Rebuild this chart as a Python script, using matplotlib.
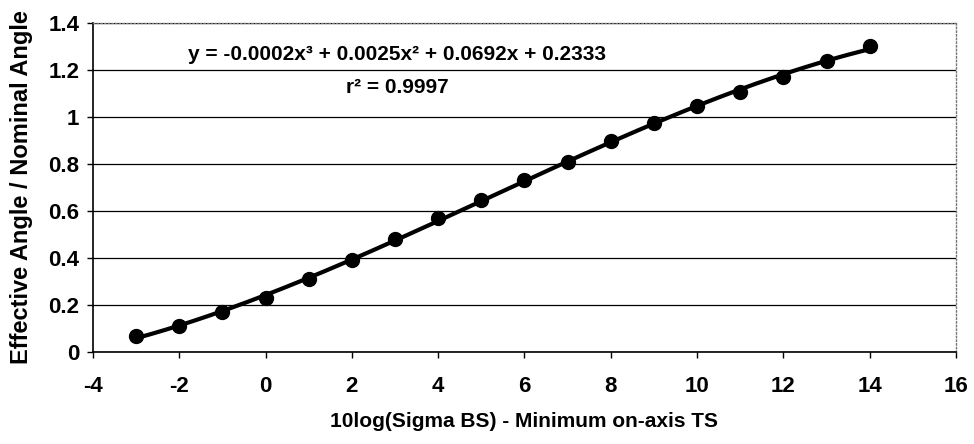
import numpy as np
import matplotlib.pyplot as plt

# data
sigma_bs = [-3, -2, -1, 0, 1, 2, 3, 4, 5, 6, 7, 8, 9, 10, 11, 12, 13, 14]
angle_ratio = [0.07, 0.11, 0.17, 0.23, 0.31, 0.39, 0.48, 0.57, 0.645, 0.73,
               0.81, 0.90, 0.975, 1.045, 1.105, 1.17, 1.24, 1.30]

x_ticks = [-4, -2, 0, 2, 4, 6, 8, 10, 12, 14, 16]
y_ticks = [0, 0.2, 0.4, 0.6, 0.8, 1.0, 1.2, 1.4]
y_tick_labels = ["0", "0.2", "0.4", "0.6", "0.8", "1", "1.2", "1.4"]

equation = "y = -0.0002x³ + 0.0025x² + 0.0692x + 0.2333"
r_squared = "r² = 0.9997"

plt.rcParams['font.family'] = ['Liberation Sans', 'DejaVu Sans']
plt.rcParams['font.weight'] = 'bold'
plt.rcParams['axes.unicode_minus'] = False

fig = plt.figure(figsize=(9.74, 4.44), dpi=100)
ax = fig.add_axes([0.0955, 0.2072, 0.886, 0.741])

# cubic trendline, like Excel's polynomial fit
coef = np.polyfit(sigma_bs, angle_ratio, 3)
xs = np.linspace(min(sigma_bs), max(sigma_bs), 200)
ax.plot(xs, np.polyval(coef, xs), color='black', linewidth=3, zorder=3)
ax.plot(sigma_bs, angle_ratio, 'o', color='black', markersize=10, zorder=4)

ax.set_xlim(-4, 16)
ax.set_ylim(0, 1.4)
ax.set_xticks(x_ticks)
ax.set_yticks(y_ticks)
ax.set_yticklabels(y_tick_labels)
ax.tick_params(labelsize=16, length=4, width=1, color='black')
ax.tick_params(axis='x', pad=13)
ax.tick_params(axis='y', pad=6)
for lbl in ax.get_xticklabels() + ax.get_yticklabels():
    lbl.set_fontweight('bold')

ax.grid(axis='y', color='black', linewidth=0.9)
ax.set_axisbelow(True)
for side in ['top', 'right']:
    ax.spines[side].set_linestyle(':')
    ax.spines[side].set_color('#777777')
    ax.spines[side].set_linewidth(1)
for side in ['left', 'bottom']:
    ax.spines[side].set_color('black')
    ax.spines[side].set_linewidth(1.2)

ax.set_xlabel("10log(Sigma BS) - Minimum on-axis TS", fontsize=15,
              fontweight='bold', labelpad=11)
ax.set_ylabel("Effective Angle / Nominal Angle", fontsize=17,
              fontweight='bold', labelpad=11)

ax.text(3.05, 1.265, equation, fontsize=15, fontweight='bold',
        ha='center', va='center')
ax.text(3.05, 1.125, r_squared, fontsize=15, fontweight='bold',
        ha='center', va='center')

plt.savefig("out.png", dpi=100)
plt.close()
